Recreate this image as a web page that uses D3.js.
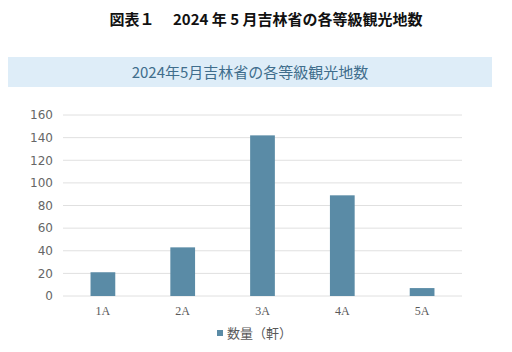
<!DOCTYPE html>
<html>
<head>
<meta charset="utf-8">
<script src="https://cdn.jsdelivr.net/npm/d3@7"></script>
<style>
  body { margin: 0; background: #fff; }
</style>
</head>
<body>
<div id="chart"></div>
<script>
const categories = ["1A", "2A", "3A", "4A", "5A"];
const counts = [21, 43, 142, 89, 7];
const yTicks = [0, 20, 40, 60, 80, 100, 120, 140, 160];
const figTitle = "図表１　 2024 年 5 月吉林省の各等級観光地数";
const chartTitle = "2024年5月吉林省の各等級観光地数";
const seriesName = "数量（軒）";

const width = 512, height = 352;
const margin = { top: 115, right: 50, bottom: 56, left: 63 };
const cjk = "'Noto Sans CJK JP', 'Noto Sans', sans-serif";

const svg = d3.select("#chart").append("svg")
    .attr("width", width)
    .attr("height", height);

// figure title
svg.append("text")
    .attr("x", 266)
    .attr("y", 25)
    .attr("text-anchor", "middle")
    .attr("font-family", cjk)
    .attr("font-size", "15px")
    .attr("font-weight", "bold")
    .attr("fill", "#111")
    .text(figTitle);

// title band
svg.append("rect")
    .attr("x", 8).attr("y", 57)
    .attr("width", 484).attr("height", 30)
    .attr("fill", "#deedf8");
svg.append("text")
    .attr("x", 250)
    .attr("y", 78)
    .attr("text-anchor", "middle")
    .attr("font-family", cjk)
    .attr("font-size", "15px")
    .attr("fill", "#3f6d8c")
    .text(chartTitle);

const plotW = width - margin.left - margin.right;
const plotH = height - margin.top - margin.bottom;
const g = svg.append("g")
    .attr("transform", `translate(${margin.left},${margin.top})`);

const x = d3.scaleBand()
    .domain(categories)
    .range([0, plotW])
    .paddingInner(0.69)
    .paddingOuter(0.345);
const y = d3.scaleLinear()
    .domain([0, 160])
    .range([plotH, 0]);

// gridlines
g.append("g")
    .selectAll("line")
    .data(yTicks)
    .join("line")
    .attr("x1", 0).attr("x2", plotW)
    .attr("y1", d => y(d)).attr("y2", d => y(d))
    .attr("stroke", "#e0e0e0")
    .attr("stroke-width", 1);

// bars
g.selectAll("rect.bar")
    .data(counts)
    .join("rect")
    .attr("class", "bar")
    .attr("x", (d, i) => x(categories[i]))
    .attr("y", d => y(d))
    .attr("width", x.bandwidth())
    .attr("height", d => plotH - y(d))
    .attr("fill", "#5a8ba6");

// y axis
const yAxis = g.append("g")
    .call(d3.axisLeft(y).tickValues(yTicks).tickSize(0).tickPadding(10));
yAxis.select(".domain").remove();
yAxis.selectAll("text")
    .attr("font-family", "'DejaVu Sans', sans-serif")
    .attr("font-size", "12px")
    .attr("fill", "#666");

// x axis
const xAxis = g.append("g")
    .attr("transform", `translate(0,${plotH})`)
    .call(d3.axisBottom(x).tickSize(0).tickPadding(10));
xAxis.select(".domain").remove();
xAxis.selectAll("text")
    .attr("font-family", "'Liberation Serif', serif")
    .attr("font-size", "12px")
    .attr("fill", "#595959");

// legend
const legend = svg.append("g").attr("transform", "translate(217,333)");
legend.append("rect")
    .attr("x", 0).attr("y", -3)
    .attr("width", 6).attr("height", 6)
    .attr("fill", "#5a8ba6");
legend.append("text")
    .attr("x", 10)
    .attr("y", 5)
    .attr("font-family", "'Noto Sans CJK JP', serif")
    .attr("font-size", "13px")
    .attr("fill", "#595959")
    .text(seriesName);
</script>
</body>
</html>
